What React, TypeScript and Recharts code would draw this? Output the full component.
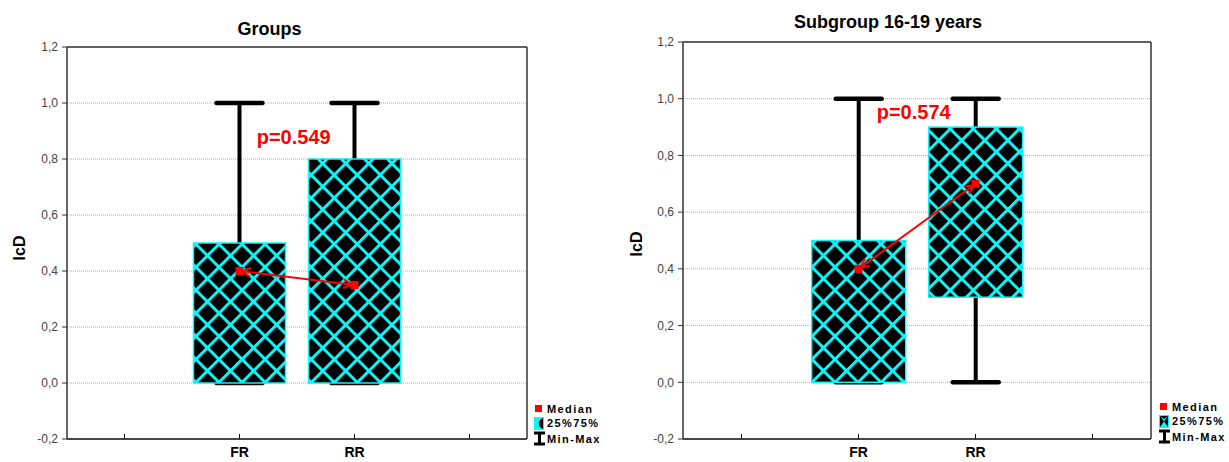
import { ComposedChart, Bar, Line, XAxis, YAxis, CartesianGrid } from 'recharts';

// categories on the x axis (two empty slots frame the groups)
const categories = ['', 'FR', 'RR', ' '];
const yTicks = [-0.2, 0, 0.2, 0.4, 0.6, 0.8, 1.0, 1.2];

// left panel: Groups
const groupsMin = [null, 0, 0, null];
const groupsQ1 = [null, 0, 0, null];
const groupsMedian = [null, 0.4, 0.35, null];
const groupsQ3 = [null, 0.5, 0.8, null];
const groupsMax = [null, 1.0, 1.0, null];

// right panel: Subgroup 16-19 years
const subMin = [null, 0, 0, null];
const subQ1 = [null, 0, 0.3, null];
const subMedian = [null, 0.4, 0.7, null];
const subQ3 = [null, 0.5, 0.9, null];
const subMax = [null, 1.0, 1.0, null];

const FONT = "'Liberation Sans', Arial, sans-serif";
const CYAN = '#10f4f8';

type N = number | null;

function buildRows(min: N[], q1: N[], med: N[], q3: N[], max: N[]) {
  return categories.map((cat, i) => ({
    cat,
    box: q1[i] == null ? null : [q1[i], q3[i]],
    whisker: min[i] == null ? null : [min[i], max[i]],
    median: med[i],
  }));
}

const fmt = (v: number) => v.toFixed(1).replace('.', ',');

const WhiskerShape = (props: any) => {
  const { x, y, width, height } = props;
  if (x == null || y == null || !isFinite(height)) return <g />;
  const top = Math.min(y, y + height);
  const bottom = Math.max(y, y + height);
  const cx = x + width / 2;
  return (
    <g>
      <line x1={cx} x2={cx} y1={top} y2={bottom} stroke="#000" strokeWidth={4} />
      <line x1={cx - 23} x2={cx + 23} y1={top} y2={top} stroke="#000" strokeWidth={4.5} strokeLinecap="round" />
      <line x1={cx - 23} x2={cx + 23} y1={bottom} y2={bottom} stroke="#000" strokeWidth={4.5} strokeLinecap="round" />
    </g>
  );
};

const BoxShape = (props: any) => {
  const { x, y, width, height } = props;
  if (x == null || y == null || !isFinite(height)) return <g />;
  const top = Math.min(y, y + height);
  return (
    <rect x={x} y={top} width={width} height={Math.abs(height)} fill="url(#hatch)" stroke={CYAN} strokeWidth={1.5} />
  );
};

const MedianDot = (props: any) => {
  const { cx, cy, payload, index } = props;
  if (payload == null || payload.median == null || cy == null) return <g key={`m-${index}`} />;
  return <rect key={`m-${index}`} x={cx - 4} y={cy - 4} width={8} height={8} fill="#ff0000" />;
};

const CatTick = (props: any) => {
  const { x, y, payload } = props;
  return (
    <g>
      <line x1={x} x2={x} y1={y} y2={y - 5} stroke="#111" strokeWidth={1} />
      <text x={x} y={y + 18} textAnchor="middle" fontFamily={FONT} fontWeight="bold" fontSize={14} fill="#000">
        {payload.value}
      </text>
    </g>
  );
};

function BoxPanel({ rows, width, marginRight, marginTop }: { rows: any[]; width: number; marginRight: number; marginTop: number }) {
  return (
    <ComposedChart
      width={width}
      height={462}
      data={rows}
      margin={{ top: marginTop, right: marginRight, bottom: 0, left: 0 }}
      barCategoryGap="10%"
    >
      <CartesianGrid vertical={false} stroke="#b0b0b0" strokeDasharray="1 1" />
      <XAxis
        dataKey="cat"
        height={23}
        interval={0}
        tickLine={false}
        tickSize={0}
        tickMargin={0}
        tick={<CatTick />}
        axisLine={{ stroke: '#111', strokeWidth: 1.5 }}
      />
      <XAxis
        xAxisId="w"
        dataKey="cat"
        orientation="top"
        mirror
        interval={0}
        tick={false}
        tickSize={5}
        tickLine={{ stroke: '#333' }}
        axisLine={{ stroke: '#333', strokeWidth: 1.5 }}
      />
      <YAxis
        width={67}
        domain={[-0.2, 1.2]}
        ticks={yTicks}
        interval={0}
        tickFormatter={fmt}
        tickSize={5}
        tickMargin={4}
        tick={{ fontSize: 12, fill: '#444', fontFamily: FONT }}
        tickLine={{ stroke: '#333' }}
        axisLine={{ stroke: '#333', strokeWidth: 1.5 }}
      />
      <YAxis
        yAxisId="r"
        orientation="right"
        mirror
        domain={[-0.2, 1.2]}
        ticks={yTicks}
        interval={0}
        tick={false}
        tickSize={5}
        tickLine={{ stroke: '#333' }}
        axisLine={{ stroke: '#333', strokeWidth: 1.5 }}
      />
      <Bar dataKey="whisker" xAxisId="w" yAxisId="r" shape={<WhiskerShape />} isAnimationActive={false} />
      <Bar dataKey="box" shape={<BoxShape />} isAnimationActive={false} />
      <Line
        dataKey="median"
        stroke="#ff0000"
        strokeWidth={2}
        markerStart="url(#arrowHead)"
        markerEnd="url(#arrowHead)"
        dot={<MedianDot />}
        activeDot={false}
        isAnimationActive={false}
      />
    </ComposedChart>
  );
}

function LegendBlock({ x, y, hourglass }: { x: number; y: number; hourglass: boolean }) {
  const textStyle = { fontFamily: FONT, fontWeight: 'bold' as const, fontSize: 11, letterSpacing: 1.4 };
  return (
    <g>
      <rect x={x + 1} y={y - 4} width={7} height={7} fill="#ff0000" />
      <text x={x + 13} y={y + 4} style={textStyle}>Median</text>
      <rect x={x} y={y + 8} width={10} height={13} fill={CYAN} />
      {hourglass ? (
        <path d={`M${x + 1},${y + 9} L${x + 5},${y + 14.5} L${x + 1},${y + 20} Z M${x + 9},${y + 9} L${x + 5},${y + 14.5} L${x + 9},${y + 20} Z M${x + 1},${y + 9} L${x + 9},${y + 9} L${x + 5},${y + 12} Z`} fill="#000" />
      ) : (
        <path d={`M${x + 9},${y + 9} A7,6 0 0 0 ${x + 9},${y + 20} Z`} fill="#000" />
      )}
      <text x={x + 13} y={y + 18} style={textStyle}>25%75%</text>
      <line x1={x} x2={x + 11} y1={y + 24} y2={y + 24} stroke="#000" strokeWidth={3} />
      <line x1={x + 5.5} x2={x + 5.5} y1={y + 24} y2={y + 35} stroke="#000" strokeWidth={3} />
      <line x1={x} x2={x + 11} y1={y + 35} y2={y + 35} stroke="#000" strokeWidth={3} />
      <text x={x + 13} y={y + 34} style={textStyle}>Min-Max</text>
    </g>
  );
}

export default function App() {
  const groupRows = buildRows(groupsMin, groupsQ1, groupsMedian, groupsQ3, groupsMax);
  const subRows = buildRows(subMin, subQ1, subMedian, subQ3, subMax);

  return (
    <div style={{ position: 'relative', width: 1229, height: 462, background: '#fff', overflow: 'hidden' }}>
      <style>{'body{margin:0}'}</style>
      <div style={{ position: 'absolute', left: 0, top: 0 }}>
        <BoxPanel rows={groupRows} width={560} marginRight={33} marginTop={47} />
      </div>
      <div style={{ position: 'absolute', left: 616, top: 0 }}>
        <BoxPanel rows={subRows} width={613} marginRight={78} marginTop={42} />
      </div>
      <svg width={1229} height={462} style={{ position: 'absolute', left: 0, top: 0, pointerEvents: 'none' }}>
        <defs>
          <pattern id="hatch" patternUnits="userSpaceOnUse" width={16.3} height={16.3} patternTransform="rotate(45)">
            <rect x={0} y={0} width={16.3} height={16.3} fill="#000" />
            <rect x={0} y={0} width={16.3} height={3} fill={CYAN} />
            <rect x={0} y={0} width={3} height={16.3} fill={CYAN} />
          </pattern>
          <marker id="arrowHead" viewBox="0 0 10 10" refX={11} refY={5} markerWidth={11} markerHeight={11} markerUnits="userSpaceOnUse" orient="auto-start-reverse">
            <path d="M1,1 L9,5 L1,9" fill="none" stroke="#ff0000" strokeWidth={1.8} />
          </marker>
        </defs>
        <text x={269.5} y={35} textAnchor="middle" fontFamily={FONT} fontWeight="bold" fontSize={18}>Groups</text>
        <text x={888} y={28} textAnchor="middle" fontFamily={FONT} fontWeight="bold" fontSize={18}>Subgroup 16-19 years</text>
        <text x={19} y={248} transform="rotate(-90 19 248)" textAnchor="middle" dominantBaseline="central" fontFamily={FONT} fontWeight="bold" fontSize={16}>IcD</text>
        <text x={636} y={244} transform="rotate(-90 636 244)" textAnchor="middle" dominantBaseline="central" fontFamily={FONT} fontWeight="bold" fontSize={16}>IcD</text>
        <text x={256.7} y={144} fontFamily={FONT} fontWeight="bold" fontSize={20} fill="#ff0000">p=0.549</text>
        <text x={876.7} y={119} fontFamily={FONT} fontWeight="bold" fontSize={20} fill="#ff0000">p=0.574</text>
        <LegendBlock x={534} y={409} hourglass={false} />
        <LegendBlock x={1159} y={407} hourglass={true} />
      </svg>
    </div>
  );
}
